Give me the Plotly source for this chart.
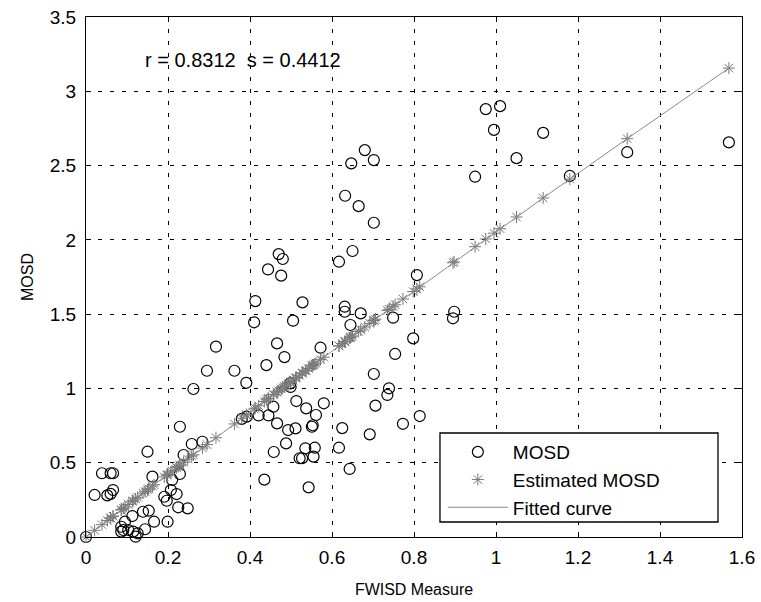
import plotly.graph_objects as go

# FWISD measure (x) for each sample
fwisd = [0.000, 0.021, 0.039, 0.052, 0.060, 0.060, 0.066, 0.066, 0.086, 0.086,
         0.091, 0.095, 0.103, 0.113, 0.115, 0.121, 0.126, 0.139, 0.144, 0.150,
         0.153, 0.162, 0.166, 0.191, 0.197, 0.199, 0.207, 0.210, 0.221, 0.225,
         0.229, 0.229, 0.238, 0.248, 0.258, 0.262, 0.284, 0.295, 0.317, 0.362,
         0.380, 0.391, 0.392, 0.410, 0.413, 0.421, 0.435, 0.440, 0.444, 0.445,
         0.457, 0.458, 0.466, 0.466, 0.470, 0.476, 0.480, 0.484, 0.488, 0.493,
         0.498, 0.499, 0.505, 0.511, 0.513, 0.521, 0.527, 0.528, 0.535, 0.537,
         0.543, 0.551, 0.553, 0.555, 0.558, 0.561, 0.572, 0.580, 0.617, 0.617,
         0.625, 0.631, 0.631, 0.632, 0.643, 0.645, 0.647, 0.650, 0.665, 0.670,
         0.680, 0.692, 0.702, 0.702, 0.702, 0.706, 0.735, 0.739, 0.749, 0.754,
         0.773, 0.798, 0.807, 0.814, 0.895, 0.898, 0.949, 0.975, 0.995, 1.010,
         1.050, 1.115, 1.180, 1.320, 1.568]

# Subjective MOSD for each sample
mosd = [0.000, 0.283, 0.429, 0.280, 0.290, 0.429, 0.429, 0.316, 0.069, 0.036,
        0.047, 0.103, 0.047, 0.141, 0.036, 0.002, 0.025, 0.170, 0.052, 0.574,
        0.177, 0.406, 0.103, 0.271, 0.244, 0.103, 0.316, 0.384, 0.289, 0.200,
        0.424, 0.742, 0.552, 0.193, 0.626, 0.996, 0.641, 1.119, 1.281, 1.119,
        0.795, 1.038, 0.810, 1.445, 1.588, 0.818, 0.386, 1.157, 1.801, 0.818,
        0.877, 0.572, 1.303, 0.765, 1.904, 1.759, 1.871, 1.211, 0.630, 0.720,
        1.034, 1.010, 1.456, 0.731, 0.915, 0.530, 0.530, 1.579, 0.597, 0.866,
        0.334, 0.742, 0.752, 0.541, 0.601, 0.821, 1.274, 0.900, 0.601, 1.853,
        0.733, 1.550, 1.516, 2.297, 0.458, 1.427, 2.515, 1.925, 2.227, 1.505,
        2.604, 0.691, 2.537, 2.115, 1.097, 0.884, 0.956, 1.001, 1.476, 1.232,
        0.762, 1.337, 1.763, 0.814, 1.472, 1.516, 2.425, 2.880, 2.740, 2.900,
        2.550, 2.720, 2.430, 2.590, 2.656]

# Estimated MOSD (values on the fitted curve) for each sample
est_mosd = [0.000, 0.045, 0.083, 0.111, 0.128, 0.128, 0.140, 0.140, 0.183, 0.183,
            0.193, 0.202, 0.219, 0.240, 0.244, 0.257, 0.267, 0.295, 0.305, 0.318,
            0.324, 0.343, 0.352, 0.404, 0.417, 0.421, 0.438, 0.444, 0.467, 0.475,
            0.484, 0.484, 0.503, 0.524, 0.545, 0.553, 0.599, 0.622, 0.668, 0.761,
            0.799, 0.821, 0.823, 0.861, 0.867, 0.883, 0.912, 0.923, 0.931, 0.933,
            0.958, 0.960, 0.976, 0.976, 0.984, 0.997, 1.005, 1.013, 1.022, 1.032,
            1.042, 1.044, 1.056, 1.069, 1.073, 1.089, 1.102, 1.104, 1.118, 1.122,
            1.134, 1.151, 1.155, 1.159, 1.165, 1.171, 1.194, 1.210, 1.286, 1.286,
            1.302, 1.314, 1.314, 1.316, 1.339, 1.343, 1.347, 1.353, 1.383, 1.393,
            1.414, 1.438, 1.458, 1.458, 1.458, 1.466, 1.525, 1.533, 1.553, 1.563,
            1.602, 1.652, 1.670, 1.684, 1.846, 1.852, 1.954, 2.006, 2.045, 2.075,
            2.154, 2.282, 2.409, 2.681, 3.156]

x_ticks = [0, 0.2, 0.4, 0.6, 0.8, 1, 1.2, 1.4, 1.6]
x_tick_labels = ["0", "0.2", "0.4", "0.6", "0.8", "1", "1.2", "1.4", "1.6"]
y_ticks = [0, 0.5, 1, 1.5, 2, 2.5, 3, 3.5]
y_tick_labels = ["0", "0.5", "1", "1.5", "2", "2.5", "3", "3.5"]

stats_text = "r = 0.8312\u00a0\u00a0s = 0.4412"

FONT = "Liberation Sans, Arial, Helvetica, sans-serif"

fig = go.Figure()

fig.add_trace(go.Scatter(
    x=fwisd, y=mosd, mode="markers", name="MOSD", legendgroup="a",
    marker=dict(symbol="circle-open", size=11, color="black",
                line=dict(width=1.2, color="black")),
    cliponaxis=False,
))
fig.add_trace(go.Scatter(
    x=fwisd, y=est_mosd, mode="markers", name="Estimated MOSD", legendgroup="b",
    marker=dict(symbol="asterisk-open", size=10, color="#777777",
                line=dict(width=1, color="#777777")),
    cliponaxis=False,
))
fig.add_trace(go.Scatter(
    x=fwisd, y=est_mosd, mode="lines", name="Fitted curve", legendgroup="c",
    line=dict(color="#8a8a8a", width=1),
    cliponaxis=False,
))

axis_common = dict(
    showline=True, linecolor="black", linewidth=1.3, mirror="ticks",
    ticks="inside", ticklen=5, tickcolor="black", tickwidth=1,
    showgrid=True, gridcolor="black", gridwidth=1, griddash="4px,8px",
    zeroline=False, automargin=False,
    tickfont=dict(family=FONT, size=19, color="black"),
)

fig.update_xaxes(
    range=[0, 1.6], tickvals=x_ticks, ticktext=x_tick_labels,
    ticklabelstandoff=3,
    title=dict(text="FWISD Measure", font=dict(family=FONT, size=16, color="black"), standoff=16),
    **axis_common,
)
fig.update_yaxes(
    range=[0, 3.5], tickvals=y_ticks, ticktext=y_tick_labels,
    ticklabelstandoff=5,
    title=dict(text="MOSD", font=dict(family=FONT, size=16, color="black"), standoff=12),
    **axis_common,
)

fig.add_annotation(
    x=0.138, y=3.21, xref="x", yref="y", text=stats_text, showarrow=False,
    xanchor="left", yanchor="middle",
    font=dict(family=FONT, size=20, color="black"),
)

# Legend frame (white box with black border), legend entries drawn on top
fig.add_shape(
    type="rect", xref="paper", yref="paper",
    x0=0.5396, x1=0.9634, y0=0.0288, y1=0.2,
    line=dict(color="black", width=1.3), fillcolor="white", layer="above",
)

fig.update_layout(
    width=761, height=602,
    margin=dict(l=86, r=19, t=17, b=65),
    paper_bgcolor="white", plot_bgcolor="white",
    font=dict(family=FONT, size=15, color="black"),
    showlegend=True,
    legend=dict(
        x=0.544, y=0.2, xanchor="left", yanchor="top",
        bgcolor="rgba(0,0,0,0)", borderwidth=0,
        font=dict(family=FONT, size=19, color="black"),
        itemwidth=60, tracegroupgap=0,
    ),
)

fig.write_html("out.html")
